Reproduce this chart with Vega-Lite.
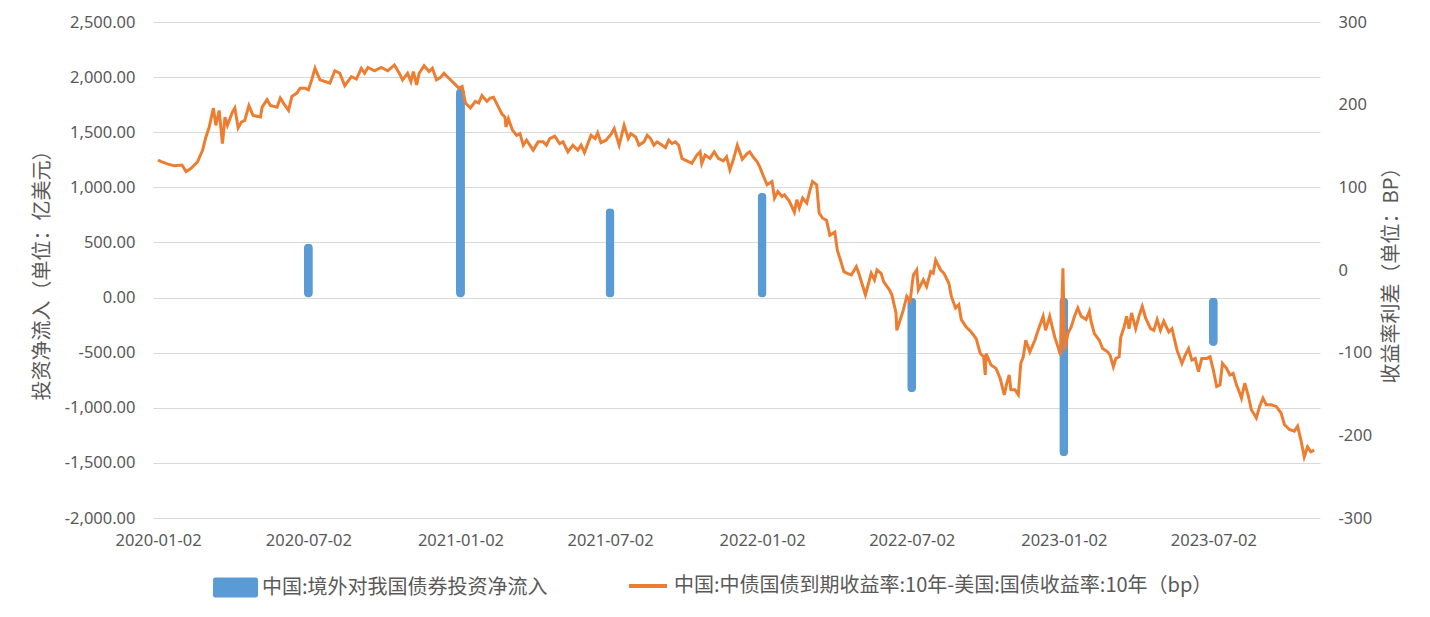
{
  "$schema": "https://vega.github.io/schema/vega-lite/v6.json",
  "autosize": {"type": "none"},
  "padding": {"left": 153, "top": 22, "right": 110, "bottom": 99},
  "width": 1167,
  "height": 496,
  "background": "white",
  "config": {
    "view": {"stroke": null},
    "axis": {"labelColor": "#595959", "titleColor": "#595959", "labelFont": "Noto Sans", "labelFontSize": 16.5, "titleFont": "Noto Sans CJK SC", "titleFontSize": 20, "titleFontWeight": "normal"},
    "legend": {"labelFont": "Noto Sans CJK SC", "labelFontSize": 20, "labelColor": "#595959", "labelLimit": 900}
  },
  "datasets": {
    "flows": [
      {"d": "2020-07-02", "v": 490},
      {"d": "2021-01-02", "v": 1900},
      {"d": "2021-07-02", "v": 810},
      {"d": "2022-01-02", "v": 950},
      {"d": "2022-07-02", "v": -860},
      {"d": "2023-01-02", "v": -1440},
      {"d": "2023-07-02", "v": -440}
    ],
    "spread": [
      {"d":"2020-01-02","v":133},{"d":"2020-01-06","v":131},{"d":"2020-01-14","v":128},{"d":"2020-01-22","v":126},{"d":"2020-01-31","v":127},
      {"d":"2020-02-05","v":119},{"d":"2020-02-11","v":123},{"d":"2020-02-19","v":131},{"d":"2020-02-25","v":145},{"d":"2020-02-29","v":161},
      {"d":"2020-03-04","v":173},{"d":"2020-03-09","v":196},{"d":"2020-03-12","v":175},{"d":"2020-03-16","v":193},{"d":"2020-03-20","v":153},
      {"d":"2020-03-23","v":185},{"d":"2020-03-26","v":175},{"d":"2020-04-01","v":191},{"d":"2020-04-04","v":196},{"d":"2020-04-08","v":172},
      {"d":"2020-04-12","v":179},{"d":"2020-04-16","v":181},{"d":"2020-04-21","v":199},{"d":"2020-04-26","v":187},{"d":"2020-05-05","v":185},
      {"d":"2020-05-07","v":197},{"d":"2020-05-13","v":206},{"d":"2020-05-17","v":199},{"d":"2020-05-25","v":197},{"d":"2020-05-29","v":208},
      {"d":"2020-06-03","v":200},{"d":"2020-06-08","v":193},{"d":"2020-06-12","v":210},{"d":"2020-06-18","v":214},{"d":"2020-06-22","v":220},
      {"d":"2020-06-28","v":220},{"d":"2020-07-02","v":218},{"d":"2020-07-06","v":230},{"d":"2020-07-10","v":244},{"d":"2020-07-16","v":230},
      {"d":"2020-07-22","v":228},{"d":"2020-07-28","v":226},{"d":"2020-08-03","v":241},{"d":"2020-08-09","v":238},{"d":"2020-08-15","v":223},
      {"d":"2020-08-23","v":234},{"d":"2020-08-29","v":231},{"d":"2020-09-04","v":244},{"d":"2020-09-08","v":238},{"d":"2020-09-12","v":245},
      {"d":"2020-09-20","v":241},{"d":"2020-09-28","v":245},{"d":"2020-10-06","v":241},{"d":"2020-10-14","v":248},{"d":"2020-10-20","v":238},
      {"d":"2020-10-24","v":230},{"d":"2020-10-30","v":238},{"d":"2020-11-03","v":228},{"d":"2020-11-06","v":240},{"d":"2020-11-10","v":224},
      {"d":"2020-11-13","v":238},{"d":"2020-11-19","v":247},{"d":"2020-11-25","v":240},{"d":"2020-11-29","v":244},{"d":"2020-12-04","v":230},
      {"d":"2020-12-09","v":233},{"d":"2020-12-13","v":238},{"d":"2020-12-19","v":232},{"d":"2020-12-25","v":226},{"d":"2020-12-31","v":220},
      {"d":"2021-01-04","v":222},{"d":"2021-01-08","v":202},{"d":"2021-01-14","v":196},{"d":"2021-01-20","v":204},{"d":"2021-01-24","v":202},
      {"d":"2021-01-28","v":211},{"d":"2021-02-03","v":204},{"d":"2021-02-07","v":208},{"d":"2021-02-11","v":209},{"d":"2021-02-17","v":197},
      {"d":"2021-02-21","v":189},{"d":"2021-02-25","v":185},{"d":"2021-02-26","v":173},{"d":"2021-03-01","v":183},{"d":"2021-03-06","v":169},
      {"d":"2021-03-11","v":163},{"d":"2021-03-15","v":165},{"d":"2021-03-19","v":151},{"d":"2021-03-23","v":157},{"d":"2021-03-31","v":145},
      {"d":"2021-04-06","v":155},{"d":"2021-04-12","v":155},{"d":"2021-04-16","v":151},{"d":"2021-04-20","v":159},{"d":"2021-04-26","v":162},
      {"d":"2021-05-02","v":153},{"d":"2021-05-06","v":155},{"d":"2021-05-12","v":143},{"d":"2021-05-18","v":151},{"d":"2021-05-24","v":145},
      {"d":"2021-05-28","v":151},{"d":"2021-06-01","v":142},{"d":"2021-06-09","v":163},{"d":"2021-06-14","v":159},{"d":"2021-06-17","v":166},
      {"d":"2021-06-21","v":154},{"d":"2021-06-27","v":157},{"d":"2021-07-03","v":164},{"d":"2021-07-07","v":171},{"d":"2021-07-13","v":151},
      {"d":"2021-07-19","v":175},{"d":"2021-07-24","v":159},{"d":"2021-07-27","v":165},{"d":"2021-08-02","v":161},{"d":"2021-08-06","v":151},
      {"d":"2021-08-12","v":155},{"d":"2021-08-16","v":163},{"d":"2021-08-20","v":159},{"d":"2021-08-24","v":151},{"d":"2021-08-28","v":155},
      {"d":"2021-09-03","v":151},{"d":"2021-09-07","v":148},{"d":"2021-09-11","v":157},{"d":"2021-09-15","v":153},{"d":"2021-09-19","v":155},
      {"d":"2021-09-23","v":151},{"d":"2021-09-27","v":135},{"d":"2021-10-01","v":133},{"d":"2021-10-09","v":129},{"d":"2021-10-15","v":139},
      {"d":"2021-10-19","v":143},{"d":"2021-10-21","v":129},{"d":"2021-10-25","v":139},{"d":"2021-10-31","v":135},{"d":"2021-11-05","v":143},
      {"d":"2021-11-10","v":135},{"d":"2021-11-16","v":132},{"d":"2021-11-20","v":137},{"d":"2021-11-24","v":121},{"d":"2021-11-28","v":133},
      {"d":"2021-12-03","v":151},{"d":"2021-12-09","v":134},{"d":"2021-12-15","v":141},{"d":"2021-12-18","v":143},{"d":"2021-12-22","v":137},
      {"d":"2021-12-27","v":131},{"d":"2021-12-30","v":125},{"d":"2022-01-03","v":115},{"d":"2022-01-08","v":103},{"d":"2022-01-14","v":107},
      {"d":"2022-01-17","v":87},{"d":"2022-01-21","v":95},{"d":"2022-01-26","v":89},{"d":"2022-01-29","v":91},{"d":"2022-02-04","v":83},
      {"d":"2022-02-10","v":70},{"d":"2022-02-13","v":85},{"d":"2022-02-16","v":75},{"d":"2022-02-20","v":87},{"d":"2022-02-25","v":81},
      {"d":"2022-03-01","v":97},{"d":"2022-03-04","v":107},{"d":"2022-03-09","v":103},{"d":"2022-03-12","v":69},{"d":"2022-03-16","v":63},
      {"d":"2022-03-21","v":60},{"d":"2022-03-25","v":42},{"d":"2022-03-31","v":46},{"d":"2022-04-03","v":24},{"d":"2022-04-08","v":8},
      {"d":"2022-04-11","v":-2},{"d":"2022-04-15","v":-4},{"d":"2022-04-20","v":-6},{"d":"2022-04-26","v":4},{"d":"2022-04-29","v":-4},
      {"d":"2022-05-07","v":-30},{"d":"2022-05-14","v":-4},{"d":"2022-05-18","v":-12},{"d":"2022-05-21","v":0},{"d":"2022-05-26","v":-4},
      {"d":"2022-05-29","v":-14},{"d":"2022-06-05","v":-24},{"d":"2022-06-08","v":-30},{"d":"2022-06-13","v":-52},{"d":"2022-06-14","v":-73},
      {"d":"2022-06-22","v":-48},{"d":"2022-06-26","v":-32},{"d":"2022-06-30","v":-38},{"d":"2022-07-04","v":-6},{"d":"2022-07-08","v":0},
      {"d":"2022-07-10","v":-24},{"d":"2022-07-16","v":-12},{"d":"2022-07-20","v":-20},{"d":"2022-07-25","v":-2},{"d":"2022-07-28","v":-4},
      {"d":"2022-07-31","v":12},{"d":"2022-08-06","v":0},{"d":"2022-08-10","v":-4},{"d":"2022-08-16","v":-16},{"d":"2022-08-19","v":-32},
      {"d":"2022-08-24","v":-46},{"d":"2022-08-28","v":-42},{"d":"2022-08-31","v":-60},{"d":"2022-09-06","v":-69},{"d":"2022-09-12","v":-75},
      {"d":"2022-09-18","v":-83},{"d":"2022-09-23","v":-101},{"d":"2022-09-27","v":-105},{"d":"2022-09-29","v":-127},{"d":"2022-09-30","v":-101},
      {"d":"2022-10-06","v":-115},{"d":"2022-10-12","v":-119},{"d":"2022-10-17","v":-131},{"d":"2022-10-22","v":-151},{"d":"2022-10-25","v":-137},
      {"d":"2022-10-28","v":-127},{"d":"2022-10-30","v":-145},{"d":"2022-11-04","v":-145},{"d":"2022-11-08","v":-151},{"d":"2022-11-11","v":-113},
      {"d":"2022-11-14","v":-105},{"d":"2022-11-17","v":-85},{"d":"2022-11-22","v":-99},{"d":"2022-11-28","v":-85},{"d":"2022-12-02","v":-73},
      {"d":"2022-12-08","v":-56},{"d":"2022-12-11","v":-73},{"d":"2022-12-16","v":-56},{"d":"2022-12-22","v":-81},{"d":"2022-12-26","v":-93},
      {"d":"2022-12-29","v":-103},{"d":"2023-01-01","v":2},{"d":"2023-01-03","v":-97},{"d":"2023-01-07","v":-77},{"d":"2023-01-11","v":-69},
      {"d":"2023-01-15","v":-56},{"d":"2023-01-19","v":-46},{"d":"2023-01-23","v":-56},{"d":"2023-01-29","v":-60},{"d":"2023-02-02","v":-50},
      {"d":"2023-02-04","v":-62},{"d":"2023-02-08","v":-77},{"d":"2023-02-14","v":-85},{"d":"2023-02-18","v":-95},{"d":"2023-02-24","v":-99},
      {"d":"2023-02-27","v":-103},{"d":"2023-03-03","v":-117},{"d":"2023-03-06","v":-107},{"d":"2023-03-10","v":-105},{"d":"2023-03-12","v":-81},
      {"d":"2023-03-16","v":-69},{"d":"2023-03-19","v":-56},{"d":"2023-03-22","v":-71},{"d":"2023-03-25","v":-52},{"d":"2023-03-30","v":-71},
      {"d":"2023-04-03","v":-56},{"d":"2023-04-07","v":-44},{"d":"2023-04-11","v":-58},{"d":"2023-04-17","v":-71},{"d":"2023-04-21","v":-73},
      {"d":"2023-04-25","v":-60},{"d":"2023-04-29","v":-73},{"d":"2023-05-03","v":-62},{"d":"2023-05-09","v":-75},{"d":"2023-05-13","v":-71},
      {"d":"2023-05-19","v":-97},{"d":"2023-05-25","v":-113},{"d":"2023-05-29","v":-103},{"d":"2023-06-02","v":-95},{"d":"2023-06-06","v":-109},
      {"d":"2023-06-10","v":-107},{"d":"2023-06-14","v":-123},{"d":"2023-06-18","v":-107},{"d":"2023-06-24","v":-107},{"d":"2023-06-28","v":-105},
      {"d":"2023-07-02","v":-121},{"d":"2023-07-06","v":-141},{"d":"2023-07-10","v":-139},{"d":"2023-07-13","v":-113},{"d":"2023-07-18","v":-119},
      {"d":"2023-07-22","v":-127},{"d":"2023-07-26","v":-125},{"d":"2023-07-30","v":-139},{"d":"2023-08-03","v":-149},{"d":"2023-08-05","v":-155},
      {"d":"2023-08-09","v":-137},{"d":"2023-08-13","v":-151},{"d":"2023-08-17","v":-169},{"d":"2023-08-23","v":-179},{"d":"2023-08-27","v":-165},
      {"d":"2023-08-31","v":-155},{"d":"2023-09-04","v":-163},{"d":"2023-09-10","v":-163},{"d":"2023-09-16","v":-165},{"d":"2023-09-22","v":-173},
      {"d":"2023-09-26","v":-187},{"d":"2023-10-02","v":-193},{"d":"2023-10-08","v":-195},{"d":"2023-10-12","v":-189},{"d":"2023-10-16","v":-206},
      {"d":"2023-10-20","v":-226},{"d":"2023-10-24","v":-214},{"d":"2023-10-28","v":-220},{"d":"2023-11-01","v":-218}
    ]
  },
  "encoding": {
    "x": {
      "field": "d", "type": "temporal",
      "scale": {"type": "utc", "domain": [{"year": 2020, "month": 1, "date": 2, "utc": true}, {"year": 2023, "month": 11, "date": 2, "utc": true}]},
      "axis": {
        "title": null, "format": "%Y-%m-%d", "grid": false, "domain": false, "ticks": false, "labelPadding": 14, "labelFlush": false, "labelOverlap": false,
        "values": [
          {"year": 2020, "month": 1, "date": 2, "utc": true},
          {"year": 2020, "month": 7, "date": 2, "utc": true},
          {"year": 2021, "month": 1, "date": 2, "utc": true},
          {"year": 2021, "month": 7, "date": 2, "utc": true},
          {"year": 2022, "month": 1, "date": 2, "utc": true},
          {"year": 2022, "month": 7, "date": 2, "utc": true},
          {"year": 2023, "month": 1, "date": 2, "utc": true},
          {"year": 2023, "month": 7, "date": 2, "utc": true}
        ]
      }
    }
  },
  "layer": [
    {
      "data": {"name": "flows"},
      "mark": {"type": "bar", "size": 9, "cornerRadius": 4.5},
      "encoding": {
        "y": {
          "field": "v", "type": "quantitative",
          "scale": {"domain": [-2000, 2500], "nice": false},
          "axis": {
            "title": "投资净流入（单位：亿美元）", "orient": "left", "format": ",.2f",
            "labelExpr": "replace(datum.label, '−', '-')",
            "values": [-2000, -1500, -1000, -500, 0, 500, 1000, 1500, 2000, 2500],
            "grid": true, "gridColor": "#D9D9D9", "gridWidth": 1, "domain": false, "ticks": false,
            "labelPadding": 18, "titlePadding": 12
          }
        },
        "fill": {
          "datum": "中国:境外对我国债券投资净流入",
          "type": "nominal",
          "scale": {"range": ["#5B9BD5"]},
          "legend": {
            "title": null, "orient": "none", "legendX": 60, "legendY": 543,
            "symbolType": "M-0.9,-0.44 L0.9,-0.44 Q1,-0.44 1,-0.34 L1,0.34 Q1,0.44 0.9,0.44 L-0.9,0.44 Q-1,0.44 -1,0.34 L-1,-0.34 Q-1,-0.44 -0.9,-0.44 Z",
            "symbolSize": 2025, "symbolStrokeWidth": 0, "labelOffset": 4
          }
        }
      }
    },
    {
      "data": {"name": "spread"},
      "mark": {"type": "line", "strokeWidth": 3, "interpolate": "linear"},
      "encoding": {
        "y": {
          "field": "v", "type": "quantitative",
          "scale": {"domain": [-300, 300], "nice": false, "zero": false},
          "axis": {
            "title": "收益率利差（单位：BP）", "orient": "right", "format": "d",
            "labelExpr": "replace(datum.label, '−', '-')",
            "values": [-300, -200, -100, 0, 100, 200, 300],
            "grid": false, "domain": false, "ticks": false,
            "labelPadding": 18, "titlePadding": 30, "titleAngle": 270
          }
        },
        "stroke": {
          "datum": "中国:中债国债到期收益率:10年-美国:国债收益率:10年（bp）",
          "type": "nominal",
          "scale": {"range": ["#ED7D31"]},
          "legend": {
            "title": null, "orient": "none", "legendX": 474, "legendY": 543,
            "symbolType": "stroke", "symbolSize": 1444, "symbolStrokeWidth": 4, "labelOffset": 5
          }
        }
      }
    }
  ],
  "resolve": {"scale": {"y": "independent", "fill": "independent", "stroke": "independent"}}
}
